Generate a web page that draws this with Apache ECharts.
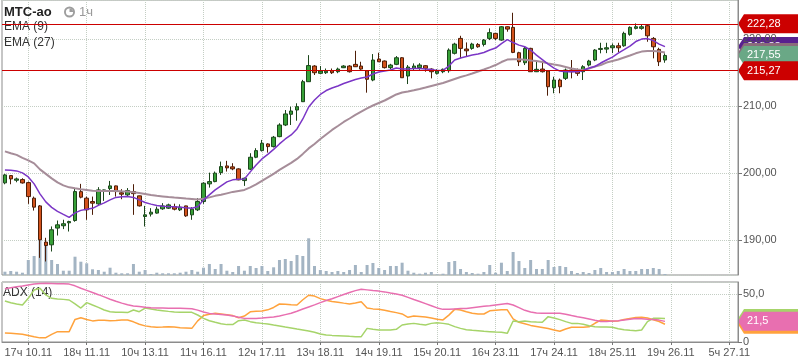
<!DOCTYPE html>
<html><head><meta charset="utf-8">
<script src="https://cdn.jsdelivr.net/npm/echarts@6/dist/echarts.min.js"></script>
<style>html,body{margin:0;padding:0;background:#fff}#c{width:798px;height:363px}</style>
</head><body><div id="c"></div>
<script>
// ---- data (hourly candles, МТС-ао) ----
const opens = [198.51,199.60,198.90,199.00,198.55,196.22,195.07,189.66,189.25,191.75,
192.10,192.54,192.88,197.20,196.22,195.72,195.37,197.30,197.66,198.06,
197.03,196.72,197.21,196.57,193.48,193.84,193.99,194.63,194.73,194.97,
194.48,195.07,193.73,194.48,195.72,198.36,198.70,200.04,201.04,200.90,
200.60,198.85,200.55,202.34,203.33,204.33,203.93,205.42,207.16,208.76,
209.40,210.64,213.63,215.97,214.88,214.97,215.27,215.12,215.72,215.97,
216.22,215.97,215.27,213.88,217.01,216.72,215.73,216.22,217.21,214.48,
215.63,215.73,216.02,215.52,214.88,215.12,215.27,217.87,220.10,218.51,
218.61,219.20,219.20,220.10,220.85,219.85,221.84,221.75,217.96,216.46,
218.61,215.12,215.52,215.22,212.73,213.88,214.13,215.37,215.22,215.12,
216.12,216.87,218.45,218.50,218.70,219.00,219.00,220.70,221.60,221.60,
222.00,220.10,218.46,216.87];
const closes = [199.70,199.10,199.10,198.50,196.46,194.88,190.00,189.15,191.50,192.24,
192.40,192.73,197.21,196.37,194.48,195.48,197.46,197.46,198.06,197.21,
196.82,197.36,196.90,195.07,193.73,194.13,194.58,195.07,195.22,194.58,
194.88,193.58,194.58,195.72,198.46,198.70,199.96,200.94,200.75,200.60,
198.96,199.20,202.34,203.33,204.43,203.93,205.33,207.16,208.81,209.25,
209.90,213.63,216.04,214.97,215.22,215.20,214.97,215.52,215.97,215.12,
215.87,215.52,213.99,216.87,216.61,215.73,216.12,217.21,214.22,215.82,
215.97,216.12,215.63,215.12,215.22,215.48,218.36,219.25,218.61,218.25,
219.25,218.85,219.85,220.96,220.10,221.84,221.49,218.01,216.61,218.61,
215.12,215.48,215.12,212.88,213.88,212.88,215.37,215.12,214.88,215.87,
216.72,218.36,218.60,218.70,219.00,218.70,220.85,221.75,221.84,221.84,
220.49,218.85,216.61,217.55];
const lows = [198.30,198.30,198.60,198.40,195.37,194.37,187.30,186.76,188.25,190.64,
191.60,191.24,192.70,196.20,192.99,193.73,195.22,195.82,196.70,196.46,
196.07,196.46,193.73,194.97,191.99,193.48,193.90,194.48,194.60,194.40,
194.30,193.43,192.99,194.30,195.37,197.80,198.60,199.70,200.20,200.40,
198.90,198.06,200.45,202.20,203.20,203.03,203.80,205.33,207.00,207.16,
207.80,210.60,213.60,214.63,214.80,214.78,214.78,214.90,215.67,215.00,
215.82,215.40,211.99,213.70,216.57,215.60,215.50,216.10,214.20,213.28,
215.37,215.40,215.12,214.13,214.70,214.90,214.97,217.70,217.12,217.36,
218.40,218.70,218.90,219.85,219.85,219.75,221.10,217.90,215.97,216.12,
215.10,215.07,215.00,211.54,211.90,211.90,213.88,214.13,214.50,213.88,
215.90,216.70,217.87,217.90,217.90,218.06,218.85,220.50,221.45,221.40,
219.60,217.12,215.97,216.46];
const highs = [199.85,199.65,199.30,199.20,198.70,196.46,195.20,190.30,192.00,192.88,
193.00,192.85,197.60,198.36,196.46,196.46,197.87,197.50,198.80,198.10,
197.57,197.73,198.31,196.60,195.07,194.73,194.97,195.48,195.40,195.40,
195.30,195.10,194.88,196.22,198.60,200.04,200.20,201.69,201.80,201.45,
200.70,199.30,202.94,203.69,204.93,204.43,205.52,207.42,209.40,209.90,
210.40,213.90,217.60,216.10,215.97,215.60,215.60,215.73,216.10,216.10,
218.25,216.61,215.37,217.76,217.96,216.80,216.30,217.46,217.30,216.12,
216.37,216.40,216.10,215.63,215.50,215.60,218.61,219.45,220.49,219.50,
219.45,219.40,220.00,221.60,220.90,221.94,221.90,223.93,218.10,218.85,
218.70,216.61,216.60,215.30,214.37,214.10,215.60,216.87,215.60,216.10,
216.90,218.50,219.45,219.45,219.35,219.45,221.10,221.90,222.34,222.20,
222.10,220.30,218.70,217.87];
const volumes = [3.3,4,3.3,2.3,15,19,48,30,15,11,
4.3,4.3,18.3,13.3,11.7,5.7,5,3.3,7.3,2.3,
1.7,1.7,11,3.3,5,1,2.3,1.7,1.7,1.7,
2.3,3.3,5,3.3,7.3,11,6,11,4.3,3,
9,4.3,9,7,9,4,7.7,15,16,14,
20,19,36.7,9,5,4,3,4,3,5,
10,3,10,12,7,5,9,9,12.3,4.3,
2.3,1.3,2.3,3,0.7,1.3,13,14,6,3,
2,1.3,3,10,2.3,12.3,4,23,14,7,
15,6,6,15,8,9,8,4,2,3,
2,5,7,3,3,4,6,4,4,6,
6,7,6,1];
const ema9 = [200.45,200.4,200.3,200.0,199.4,198.36,196.87,195.67,194.85,194.25,
193.8,193.36,194.03,194.4,194.58,194.7,195.15,195.52,195.97,196.34,
196.45,196.46,196.34,195.97,195.57,195.33,195.12,195.03,194.97,194.93,
194.88,194.78,194.73,194.93,195.97,196.72,197.46,198.06,198.66,198.96,
199.06,199.1,200.15,201.19,202.09,202.76,203.51,204.33,205.07,205.67,
206.57,208.06,209.85,210.9,211.72,212.31,212.69,212.99,213.36,213.66,
213.96,214.18,214.33,214.78,215.07,215.22,215.37,215.67,215.52,215.52,
215.6,215.6,215.52,215.45,215.3,215.33,215.97,216.87,217.16,217.39,
217.61,217.76,217.99,218.36,218.66,219.33,219.93,219.48,219.1,218.85,
218.36,217.61,216.94,216.27,215.67,215.22,215.12,215.12,215.12,215.3,
215.67,215.9,216.42,216.87,217.31,217.91,218.43,218.96,219.63,220.0,
220.07,219.78,219.25,218.88];
const ema27 = [203.21,202.94,202.69,202.24,201.87,201.42,200.52,199.85,199.18,198.58,
198.13,197.84,197.69,197.57,197.46,197.34,197.31,197.31,197.31,197.28,
197.24,197.21,197.12,196.99,196.84,196.69,196.57,196.48,196.39,196.31,
196.24,196.16,196.09,196.01,196.12,196.34,196.57,196.72,196.94,197.16,
197.31,197.46,197.84,198.28,198.81,199.33,199.85,200.45,200.97,201.49,
202.09,202.84,203.66,204.33,205.07,205.75,206.42,207.01,207.61,208.13,
208.66,209.15,209.63,210.07,210.45,210.82,211.27,211.72,212.01,212.16,
212.34,212.54,212.76,212.99,213.21,213.43,213.73,214.03,214.33,214.58,
214.85,215.15,215.45,215.78,216.12,216.57,216.94,216.97,216.97,216.91,
216.79,216.72,216.57,216.37,216.19,216.04,215.82,215.6,215.45,215.37,
215.6,215.9,216.12,216.49,216.72,216.94,217.24,217.54,217.87,218.13,
218.21,218.21,218.13,217.99];
const adx = [55.5,56.5,57.5,58.3,59.3,60.3,61,61.1,61,60.8,
60.6,60.3,58.5,56,53.8,51.5,49.3,47,44.6,42.5,
40.5,38.8,37.6,37,36.2,35.7,35.4,35.3,35.2,35.1,
35.1,35,34.7,33.2,31.2,29.8,29.2,28.7,28.2,27.2,
25.8,24.6,24.6,24.6,24.9,25.5,26,27,28.5,30,
32,34.3,36.5,38.7,41,43.2,45,47.3,49.5,51.6,
53.5,54.9,54.3,53.6,53,52.2,51,50,48.7,46.5,
44.3,42.2,40,37.8,35.5,34,34.2,34.5,34.8,35,
35.8,36.5,37.2,37.8,38.6,39.4,40.2,38.5,35.8,33,
31.2,30.3,29.9,29.9,29.9,29.9,28.8,27.5,26.3,25.3,
24,22.6,21.3,21.4,21.8,22.2,22.9,23.8,24.6,24.3,
23.8,23.4,22.8,21.5];
const diPlus = [9.5,9.2,8.7,8,6.8,5.5,4.3,4.5,8,10.8,
10.8,10.8,23.5,25.3,23.5,22,22.6,22.6,22.2,22.5,
22.9,22.9,21,18.5,16.8,16,15.3,15.6,16,15.5,
14.9,14.6,14.2,22,27.5,29,29.9,29.2,28.5,27.5,
25.3,27,31.4,32,32.3,33.5,36,39.6,39.3,38.8,
38.5,44,48.7,47.8,45.2,43.5,42.3,41.5,40.5,39.7,
40.7,42,35.5,34.5,34.2,33,31.7,30.6,29.2,25.7,
27,26.6,26,25,23.7,23,28,34,33.4,31.5,
30,29.2,29.2,32.5,33,33.5,33.5,24,20.5,19,
17.3,16.2,15.1,14,12.6,11.2,13.5,15.3,15.3,15.3,
15.8,19.5,22.8,22.3,21.5,22,23.5,24.5,25.5,25.8,
24.9,23.2,21.4,18.5];
const diMinus = [42.7,40.9,39.6,38.5,45.5,54.2,55.9,49,45.5,44.8,
44.4,43.75,39.6,35.4,41,38.5,36.1,33.3,31.6,30.9,
30.9,30.6,33.3,31.6,35.4,34.4,33.3,32.6,31.9,31.25,
30.9,30.9,30.9,28.1,24.65,22.2,20.5,19.1,18.1,18.1,
22.2,22.9,21.2,20.1,19.4,18.75,17.7,16.7,15.6,14.6,
13.5,12.5,11.5,10.1,8.3,7.3,6.9,6.6,6.25,5.9,
5.56,5.56,14.2,13.2,12.5,12.5,12.5,13.2,17.7,18.75,
19.4,18.4,17.7,19.4,20.1,19.4,18.4,16,14.2,12.8,
12.2,11.8,11.1,10.8,10.4,10.1,9.0,21.9,21.2,21.9,
21.2,20.8,20.5,26.4,25,23.3,21.2,19.4,19.4,18.4,
17,16,15.6,15.6,15.3,13.9,12.8,12.2,11.8,12.5,
21.2,24.65,24.65,24.5];
const tickLabels = ['17ч 10.11','18ч 11.11','10ч 13.11','11ч 16.11','12ч 17.11','13ч 18.11',
  '14ч 19.11','15ч 20.11','16ч 23.11','17ч 24.11','18ч 25.11','19ч 26.11','5ч 27.11'];
const firstTickSlot = 4, tickStep = 10, slotCount = 126;
const levelHigh = 222.28, levelLow = 215.27;

// ---- chart ----
const FONT = '"Liberation Sans", Arial, Helvetica, sans-serif';
const slots = Array.from({length: slotCount}, (_, i) => String(i));
const isTick = i => i >= firstTickSlot && (i - firstTickSlot) % tickStep === 0;
const candleData = opens.map((o, i) => [o, closes[i], lows[i], highs[i]]);
const gridL = 2, gridW = 736, RIGHT = gridL + gridW, W = 798;
const dotted = {color: '#c4cec4', type: 'dotted', width: 1};
const vSplit = {show: true, interval: (i) => isTick(i), alignWithLabel: true, lineStyle: dotted};
const borderCol = '#8c8c8c';
const fmt2 = v => v.toFixed(2).replace('.', ',');

const chart = echarts.init(document.getElementById('c'), null, {renderer: 'canvas'});
chart.setOption({
  animation: false,
  backgroundColor: '#ffffff',
  textStyle: {fontFamily: FONT},
  grid: [
    {left: gridL, width: gridW, top: 0, height: 275, show: true, borderColor: borderCol, borderWidth: 1, containLabel: false, outerBoundsMode: 'none'},
    {left: gridL, width: gridW, top: 200, height: 75, containLabel: false, outerBoundsMode: 'none'},
    {left: gridL, width: gridW, top: 282, height: 60, show: true, borderColor: borderCol, borderWidth: 1, containLabel: false, outerBoundsMode: 'none'}
  ],
  xAxis: [
    {type: 'category', gridIndex: 0, data: slots, boundaryGap: true,
     axisLine: {show: false}, axisTick: {show: false}, axisLabel: {show: false}, splitLine: vSplit},
    {type: 'category', gridIndex: 1, data: slots, boundaryGap: true, show: false},
    {type: 'category', gridIndex: 2, data: slots, boundaryGap: true,
     axisLine: {show: true, lineStyle: {color: borderCol}},
     axisTick: {show: true, interval: (i) => isTick(i), alignWithLabel: true, length: 3, lineStyle: {color: '#777'}},
     axisLabel: {show: true, interval: (i) => isTick(i), color: '#555', fontSize: 11, fontFamily: FONT, margin: 5,
       formatter: (v, idx) => tickLabels[(idx - firstTickSlot) / tickStep] || ''},
     splitLine: vSplit}
  ],
  yAxis: [
    {type: 'value', gridIndex: 0, position: 'right', min: 184.74, max: 225.84, splitNumber: 4,
     axisLine: {show: true, lineStyle: {color: borderCol}},
     axisTick: {show: true, length: 4, lineStyle: {color: '#777'}},
     axisLabel: {color: '#555', fontSize: 11, fontFamily: FONT, margin: 5, showMinLabel: false, showMaxLabel: false, formatter: fmt2},
     splitLine: {show: true, lineStyle: dotted}},
    {type: 'value', gridIndex: 1, min: 0, max: 75, show: false, splitLine: {show: false}},
    {type: 'value', gridIndex: 2, position: 'right', min: 0, max: 62.5, interval: 50,
     axisLine: {show: true, lineStyle: {color: borderCol}},
     axisTick: {show: true, length: 4, lineStyle: {color: '#777'}},
     axisLabel: {color: '#555', fontSize: 11, fontFamily: FONT, margin: 5, showMaxLabel: false,
       formatter: v => v === 0 ? '0' : v.toFixed(1).replace('.', ',')},
     splitLine: {show: true, lineStyle: dotted}}
  ],
  series: [
    {name: 'Volume', type: 'bar', xAxisIndex: 1, yAxisIndex: 1, data: volumes, barWidth: 3,
     itemStyle: {color: '#a3b4c3'}, z: 1, silent: true},
    {name: 'МТС-ао', type: 'candlestick', xAxisIndex: 0, yAxisIndex: 0, data: candleData, barWidth: 4,
     itemStyle: {color: '#37a037', color0: '#d3521b', borderColor: '#1b461b', borderColor0: '#4e1e08', borderWidth: 1},
     z: 3, silent: true},
    {name: 'EMA (27)', type: 'line', xAxisIndex: 0, yAxisIndex: 0, data: ema27, symbol: 'none',
     lineStyle: {color: '#a68d99', width: 2}, z: 4, silent: true},
    {name: 'EMA (9)', type: 'line', xAxisIndex: 0, yAxisIndex: 0, data: ema9, symbol: 'none',
     lineStyle: {color: '#7b36c6', width: 1.5}, z: 4, silent: true,
     markLine: {symbol: 'none', silent: true, label: {show: false},
       lineStyle: {color: '#cc0000', width: 1, type: 'solid'},
       data: [{yAxis: levelHigh}, {yAxis: levelLow}]}},
    {name: 'ADX', type: 'line', xAxisIndex: 2, yAxisIndex: 2, data: adx, symbol: 'none',
     lineStyle: {color: '#e86fb0', width: 1.5}, z: 4, silent: true},
    {name: '+DI', type: 'line', xAxisIndex: 2, yAxisIndex: 2, data: diPlus, symbol: 'none',
     lineStyle: {color: '#ffa23c', width: 1.5}, z: 3, silent: true},
    {name: '-DI', type: 'line', xAxisIndex: 2, yAxisIndex: 2, data: diMinus, symbol: 'none',
     lineStyle: {color: '#a6d46a', width: 1.5}, z: 3, silent: true}
  ]
});

// ---- value tags on the right, placed through the axes ----
function tag(axisIdx, value, fill, text, digits) {
  const y = chart.convertToPixel({yAxisIndex: axisIdx}, value);
  const h = 9.5;
  return {type: 'group', children: [
    {type: 'polygon', shape: {points: [[RIGHT, y], [RIGHT + 6, y - h], [W, y - h], [W, y + h], [RIGHT + 6, y + h]]},
     style: {fill: fill}},
    {type: 'text', x: RIGHT + 9, y: y, style: {text: text, fill: '#fff', font: '11px ' + FONT, verticalAlign: 'middle'}}
  ]};
}
const last = a => a[a.length - 1];
const f1 = v => v.toFixed(1).replace('.', ',');
const graphics = [
  tag(0, last(ema9), '#58208f', fmt2(last(ema9))),
  tag(0, last(ema27), '#8a6c7b', fmt2(last(ema27))),
  tag(0, last(closes), '#6aa886', fmt2(last(closes))),
  tag(0, levelLow, '#cc0000', fmt2(levelLow)),
  tag(0, levelHigh, '#cc0000', fmt2(levelHigh)),
  tag(2, last(diPlus), '#ffa23c', f1(last(diPlus))),
  tag(2, last(diMinus), '#a6d46a', f1(last(diMinus))),
  tag(2, last(adx), '#e86fb0', f1(last(adx))),
  // legend texts
  {type: 'text', x: 4, y: 12, style: {text: 'МТС-ао', font: 'bold 13px ' + FONT, fill: '#222', verticalAlign: 'middle'}},
  {type: 'circle', shape: {cx: 69.5, cy: 12, r: 5.5}, style: {fill: '#9d9d9d'}},
  {type: 'circle', shape: {cx: 69.5, cy: 12, r: 3.6}, style: {fill: '#ffffff'}},
  {type: 'sector', shape: {cx: 69.5, cy: 12, r: 3.6, startAngle: -Math.PI / 2, endAngle: 0}, style: {fill: '#9d9d9d'}},
  {type: 'text', x: 79, y: 12.5, style: {text: '1ч', font: '13px ' + FONT, fill: '#9a9a9a', verticalAlign: 'middle'}},
  {type: 'text', x: 4, y: 27, style: {text: 'EMA (9)', font: '12px ' + FONT, fill: '#333', verticalAlign: 'middle'}},
  {type: 'text', x: 4, y: 42.5, style: {text: 'EMA (27)', font: '12px ' + FONT, fill: '#333', verticalAlign: 'middle'}},
  {type: 'text', x: 3, y: 292.5, style: {text: 'ADX (14)', font: '12px ' + FONT, fill: '#333', verticalAlign: 'middle'}}
];
chart.setOption({graphic: graphics});
</script>
</body></html>
